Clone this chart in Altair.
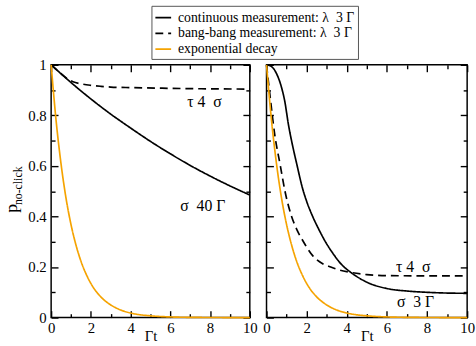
import altair as alt
import pandas as pd

SERIES = ["continuous measurement: λ \u00a03 Γ", "bang-bang measurement: λ \u00a03 Γ", "exponential decay"]

t_exp = [0, 0.25, 0.5, 0.75, 1, 1.25, 1.5, 1.75, 2, 2.5, 3, 3.5, 4, 4.5, 5, 6, 7, 8, 9, 10]
p_exp = [1, 0.779, 0.607, 0.472, 0.368, 0.287, 0.223, 0.174, 0.135, 0.082, 0.050, 0.030,
         0.018, 0.011, 0.007, 0.0025, 0.0009, 0.0003, 0.0001, 0.0]

t_cont_l = [0, 1, 2, 3, 4, 5, 6, 7, 8, 9, 10]
p_cont_l = [1, 0.93, 0.865, 0.805, 0.75, 0.697, 0.648, 0.602, 0.56, 0.521, 0.485]
t_bang_l = [0, 0.4, 0.84, 1.1, 1.5, 2, 2.5, 3, 4, 6, 8, 10]
p_bang_l = [1, 0.972, 0.944, 0.933, 0.925, 0.919, 0.915, 0.912, 0.91, 0.907, 0.905, 0.904]

t_cont_r = [0, 0.25, 0.5, 0.75, 0.9, 1.1, 1.3, 1.5, 1.8, 2.0, 2.3, 2.6, 2.9, 3.3, 3.8, 4.1, 5, 6, 7, 8, 9, 10]
p_cont_r = [1, 0.993, 0.965, 0.91, 0.86, 0.76, 0.68, 0.61, 0.51, 0.46, 0.40, 0.35, 0.305, 0.255,
            0.205, 0.185, 0.14, 0.115, 0.105, 0.1, 0.097, 0.096]
t_bang_r = [0, 0.2, 0.39, 0.69, 0.92, 1.25, 1.5, 1.84, 2.3, 2.8, 3.2, 3.6, 4.1, 5, 6, 8, 10]
p_bang_r = [1, 0.86, 0.735, 0.6, 0.5, 0.4, 0.35, 0.3, 0.245, 0.213, 0.2, 0.189, 0.18, 0.17,
            0.166, 0.165, 0.165]

ann_l_text = ["τ 4 \u00a0σ", "σ \u00a040 Γ"]
ann_l_t = [6.85, 6.5]
ann_l_p = [0.852, 0.443]
ann_r_text = ["τ 4 \u00a0σ", "σ \u00a03 Γ"]
ann_r_t = [6.45, 6.5]
ann_r_p = [0.2, 0.062]

x_major = [0, 2, 4, 6, 8, 10]
x_minor = [1, 3, 5, 7, 9]
y_major = [0, 0.2, 0.4, 0.6, 0.8, 1.0]
y_minor = [0.1, 0.3, 0.5, 0.7, 0.9]

FONT = "Liberation Serif"
H = 257
W1, W2 = 202, 204
ORANGE = "#f5a300"


def frame(series_data):
    rows = []
    for name, ts, ps in series_data:
        for i, (t, p) in enumerate(zip(ts, ps)):
            rows.append({"series": name, "t": t, "p": p, "i": i})
    return pd.DataFrame(rows)


xs = alt.Scale(domain=[0, 10], nice=False, zero=False)
ys = alt.Scale(domain=[0, 1], nice=False, zero=False)


def tick_axis(orient, values, size):
    return alt.Axis(orient=orient, values=values, labels=False, domain=False, grid=False, ticks=True,
                    tickSize=alt.expr(str(-size)), tickColor="black", tickWidth=1.4, title=None)


def label_axis(values, labels, title, pad, fmt=None):
    kw = dict(values=values, labels=labels, ticks=False, domain=False, grid=False, title=title,
              labelFont=FONT, labelFontSize=15, labelColor="black", labelPadding=pad,
              labelFlush=False, titleFont=FONT, titleFontSize=15, titleFontWeight="normal",
              titleColor="black", titlePadding=-7)
    if fmt:
        kw["format"] = fmt
    return alt.Axis(**kw)


LEGEND = alt.Legend(title=None, labelLimit=0, labelFont=FONT, labelFontSize=14, labelColor="black",
                    symbolType="stroke", symbolSize=256, symbolStrokeWidth=2, rowPadding=-3,
                    labelOffset=6, orient="none", legendX=102, legendY=-60, strokeColor="#555555",
                    fillColor="white", padding=3, cornerRadius=0)


def tick_layer(df, xo, yo, xv, yv, size):
    return alt.Chart(df).mark_point(opacity=0).encode(
        x=alt.X("t:Q", scale=xs, axis=tick_axis(xo, xv, size)),
        y=alt.Y("p:Q", scale=ys, axis=tick_axis(yo, yv, size)),
    )


def panel(df, ann_text, ann_t, ann_p, W, left_labels, extra):
    lines = alt.Chart(df).mark_line(interpolate="monotone").encode(
        x=alt.X("t:Q", scale=xs, axis=label_axis(x_major, True, "Γt", 3)),
        y=alt.Y("p:Q", scale=ys, axis=label_axis(y_major, left_labels, None, 5, fmt="~g")),
        color=alt.Color("series:N", sort=SERIES,
                        scale=alt.Scale(domain=SERIES, range=["black", "black", ORANGE]),
                        legend=LEGEND),
        strokeDash=alt.StrokeDash("series:N", sort=SERIES,
                                  scale=alt.Scale(domain=SERIES, range=[[1, 0], [8, 5], [1, 0]]),
                                  legend=LEGEND),
        strokeWidth=alt.StrokeWidth("series:N", sort=SERIES,
                                    scale=alt.Scale(domain=SERIES, range=[1.7, 1.7, 3]),
                                    legend=None),
        order="i:Q",
    )
    adf = pd.DataFrame({"label": ann_text, "t": ann_t, "p": ann_p})
    texts = alt.Chart(adf).mark_text(align="left", baseline="middle", font=FONT, fontSize=16,
                                     color="black").encode(
        x=alt.X("t:Q", scale=xs, axis=None),
        y=alt.Y("p:Q", scale=ys, axis=None),
        text="label:N",
    )
    layers = [
        lines,
        tick_layer(df, "bottom", "left", x_major, y_major, 7),
        tick_layer(df, "bottom", "left", x_minor, y_minor, 4),
        tick_layer(df, "top", "right", x_major, y_major, 7),
        tick_layer(df, "top", "right", x_minor, y_minor, 4),
        texts,
    ] + extra
    return alt.layer(*layers).resolve_axis(x="independent", y="independent").properties(width=W, height=H)


df_l = frame([(SERIES[0], t_cont_l, p_cont_l), (SERIES[1], t_bang_l, p_bang_l), (SERIES[2], t_exp, p_exp)])
df_r = frame([(SERIES[0], t_cont_r, p_cont_r), (SERIES[1], t_bang_r, p_bang_r), (SERIES[2], t_exp, p_exp)])

ytitle = alt.Chart(pd.DataFrame({"s": ["p"]})).mark_text(font=FONT, fontSize=18, angle=270, align="center",
                                                         baseline="alphabetic", color="black").encode(
    text="s:N", x=alt.value(-35), y=alt.value(146))
ysub = alt.Chart(pd.DataFrame({"s": ["no-click"]})).mark_text(font=FONT, fontSize=12, angle=270,
                                                              align="center", baseline="alphabetic",
                                                              color="black").encode(
    text="s:N", x=alt.value(-30), y=alt.value(123))

left = panel(df_l, ann_l_text, ann_l_t, ann_l_p, W1, True, [ytitle, ysub])
right = panel(df_r, ann_r_text, ann_r_t, ann_r_p, W2, False, [])

chart = alt.hconcat(left, right, spacing=17, bounds="flush").properties(
    padding={"left": 2, "top": 2, "right": 0, "bottom": 0}
).configure(font=FONT).configure_view(stroke="black", strokeWidth=1.5)

chart.save("out.html", embed_options={"renderer": "svg", "actions": False})
